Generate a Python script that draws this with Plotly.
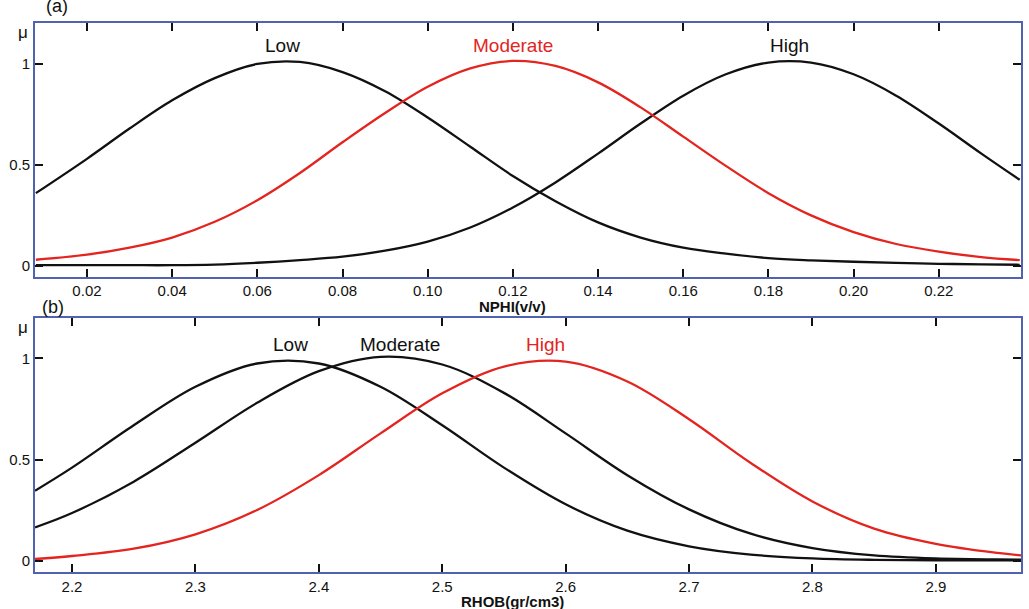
import plotly.graph_objects as go
from plotly.subplots import make_subplots

# ---------------- data ----------------
# Panel (a): NPHI (v/v)
nphi_x = [0.008, 0.02, 0.03, 0.04, 0.05, 0.06, 0.07, 0.08, 0.09, 0.10, 0.11, 0.12,
          0.13, 0.14, 0.15, 0.16, 0.17, 0.18, 0.19, 0.20, 0.21, 0.22, 0.23, 0.239]
nphi_low = [0.36, 0.53, 0.68, 0.82, 0.93, 1.0, 1.01, 0.96, 0.865, 0.735, 0.59, 0.445,
            0.32, 0.215, 0.14, 0.09, 0.06, 0.038, 0.027, 0.02, 0.014, 0.01, 0.007, 0.005]
nphi_moderate = [0.03, 0.055, 0.09, 0.14, 0.218, 0.325, 0.46, 0.612, 0.757, 0.887, 0.978, 1.015,
                 0.99, 0.909, 0.785, 0.64, 0.495, 0.36, 0.25, 0.167, 0.108, 0.07, 0.043, 0.028]
nphi_high = [0.003, 0.003, 0.003, 0.003, 0.006, 0.015, 0.028, 0.045, 0.075, 0.12, 0.19, 0.289,
             0.413, 0.556, 0.705, 0.843, 0.949, 1.007, 1.007, 0.949, 0.843, 0.705, 0.556, 0.426]

# Panel (b): RHOB (gr/cm3)
rhob_x = [2.17, 2.2, 2.25, 2.3, 2.35, 2.4, 2.45, 2.5, 2.55, 2.6, 2.65, 2.7,
          2.75, 2.8, 2.85, 2.9, 2.95, 2.969]
rhob_low = [0.347, 0.461, 0.67, 0.86, 0.975, 0.975, 0.86, 0.67, 0.461, 0.28, 0.15, 0.073,
            0.032, 0.013, 0.006, 0.004, 0.003, 0.003]
rhob_moderate = [0.166, 0.237, 0.392, 0.584, 0.781, 0.937, 1.008, 0.97, 0.83, 0.63, 0.424, 0.255,
                 0.135, 0.064, 0.028, 0.013, 0.008, 0.007]
rhob_high = [0.01, 0.025, 0.061, 0.132, 0.252, 0.424, 0.63, 0.828, 0.96, 0.984, 0.886, 0.70,
             0.484, 0.294, 0.16, 0.085, 0.04, 0.028]

nphi_ticks = [0.02, 0.04, 0.06, 0.08, 0.10, 0.12, 0.14, 0.16, 0.18, 0.20, 0.22]
rhob_ticks = [2.2, 2.3, 2.4, 2.5, 2.6, 2.7, 2.8, 2.9]
mu_ticks = [0, 0.5, 1]
mu_ticktext = ["0", "0.5", "1"]

# ---------------- styling ----------------
BLACK = "#111111"
RED = "#e3241f"
AXIS = "#5062b0"
FONT = "Liberation Sans, Arial, sans-serif"

fig = make_subplots(rows=2, cols=1, shared_xaxes=False, vertical_spacing=0.0)

def add(x, y, color, row):
    fig.add_trace(go.Scatter(x=x, y=y, mode="lines",
                             line=dict(color=color, width=2.3, shape="spline", smoothing=1.0),
                             showlegend=False, hoverinfo="skip"), row=row, col=1)

add(nphi_x, nphi_low, BLACK, 1)
add(nphi_x, nphi_high, BLACK, 1)
add(nphi_x, nphi_moderate, RED, 1)
add(rhob_x, rhob_low, BLACK, 2)
add(rhob_x, rhob_moderate, BLACK, 2)
add(rhob_x, rhob_high, RED, 2)

axis_common = dict(showline=True, linecolor=AXIS, linewidth=1.6, mirror="ticks",
                   ticks="inside", ticklen=8, tickwidth=1.6, tickcolor=BLACK,
                   showgrid=False, zeroline=False, automargin=False,
                   tickfont=dict(family=FONT, size=15, color=BLACK))

fig.update_xaxes(**axis_common, range=[0.0078, 0.2393], tickvals=nphi_ticks,
                 tickformat=".2f", row=1, col=1)
fig.update_xaxes(**axis_common, range=[2.170, 2.969], tickvals=rhob_ticks,
                 tickformat=".1f", row=2, col=1)
fig.update_yaxes(**axis_common, range=[-0.054, 1.203], tickvals=mu_ticks,
                 ticktext=mu_ticktext, row=1, col=1)
fig.update_yaxes(**axis_common, range=[-0.054, 1.198], tickvals=mu_ticks,
                 ticktext=mu_ticktext, row=2, col=1)

fig.update_layout(
    width=1029, height=609,
    margin=dict(l=35, r=8, t=23, b=37),
    paper_bgcolor="white", plot_bgcolor="white",
    font=dict(family=FONT, color=BLACK),
    yaxis=dict(domain=[0.5379, 1.0]),
    yaxis2=dict(domain=[0.0, 0.4621]),
)

def ann(text, x, y, xref, yref, size=18, color=BLACK, bold=False):
    t = f"<b>{text}</b>" if bold else text
    fig.add_annotation(text=t, x=x, y=y, xref=xref, yref=yref, showarrow=False,
                       font=dict(family=FONT, size=size, color=color),
                       xanchor="center", yanchor="middle")

# curve labels
ann("Low", 0.066, 1.09, "x", "y", size=19)
ann("Moderate", 0.120, 1.09, "x", "y", size=19, color=RED)
ann("High", 0.185, 1.09, "x", "y", size=19)
ann("Low", 2.377, 1.07, "x2", "y2", size=19)
ann("Moderate", 2.466, 1.07, "x2", "y2", size=19)
ann("High", 2.584, 1.07, "x2", "y2", size=19, color=RED)

# panel letters, mu labels and axis titles (paper coords from pixels)
W, H = 1029, 609
L, R, T, B = 35, 8, 23, 37
def px(xp):
    return (xp - L) / (W - L - R)
def py(yp):
    return (H - B - yp) / (H - T - B)

ann("(a)", px(57), py(6), "paper", "paper", size=18)
ann("(b)", px(53), py(307), "paper", "paper", size=18)
ann("μ", px(23), py(33), "paper", "paper", size=17)
ann("μ", px(23), py(327), "paper", "paper", size=17)
ann("NPHI(v/v)", px(512), py(306), "paper", "paper", size=15, bold=True)
ann("RHOB(gr/cm3)", px(512), py(601), "paper", "paper", size=15, bold=True)

fig.write_html("out.html", config={"displayModeBar": False},
               post_script="document.body.style.margin='0';document.body.style.padding='0';")
